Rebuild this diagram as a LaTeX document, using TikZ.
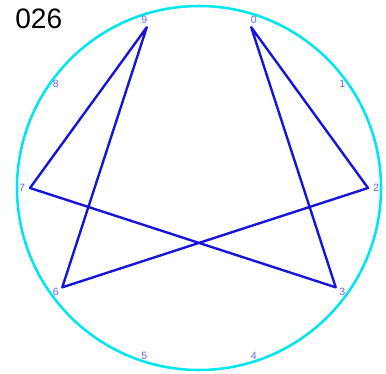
\documentclass[tikz,border=0pt]{standalone}
\usepackage{fontspec}
\setmainfont{Liberation Sans}
\definecolor{ringcyan}{RGB}{0,230,240}
\definecolor{starblue}{RGB}{20,20,220}
\definecolor{labelblue}{RGB}{100,100,255}

\begin{document}
\begin{tikzpicture}[
  x=0.025cm, y=0.025cm,
  ring/.style={draw=ringcyan, line width=1.8pt},
  edge/.style={draw=starblue, line width=1.7pt, line join=round},
  lbl/.style={text=labelblue, font=\fontsize{7.5}{8}\selectfont, inner sep=0pt},
  title/.style={font=\fontsize{20}{22}\selectfont, inner sep=0pt, anchor=west},
]
  \useasboundingbox (0,0) rectangle (386,373);
  \coordinate (O) at (199,185);
  \draw[ring] (O) circle (182);

  % points and their numbers
  \foreach \i in {0,...,9} {
    \path (O) ++({72-36*\i}:169) coordinate (p\i);
    \path (O) ++({72-36*\i}:177) node[lbl] (l\i) {\i};
  }

  \draw[edge] (p0) -- (p2) -- (p6) -- (p9) -- (p7) -- (p3) -- cycle;

  \node[title] (name) at (15,353.7) {026};
\end{tikzpicture}
\end{document}
